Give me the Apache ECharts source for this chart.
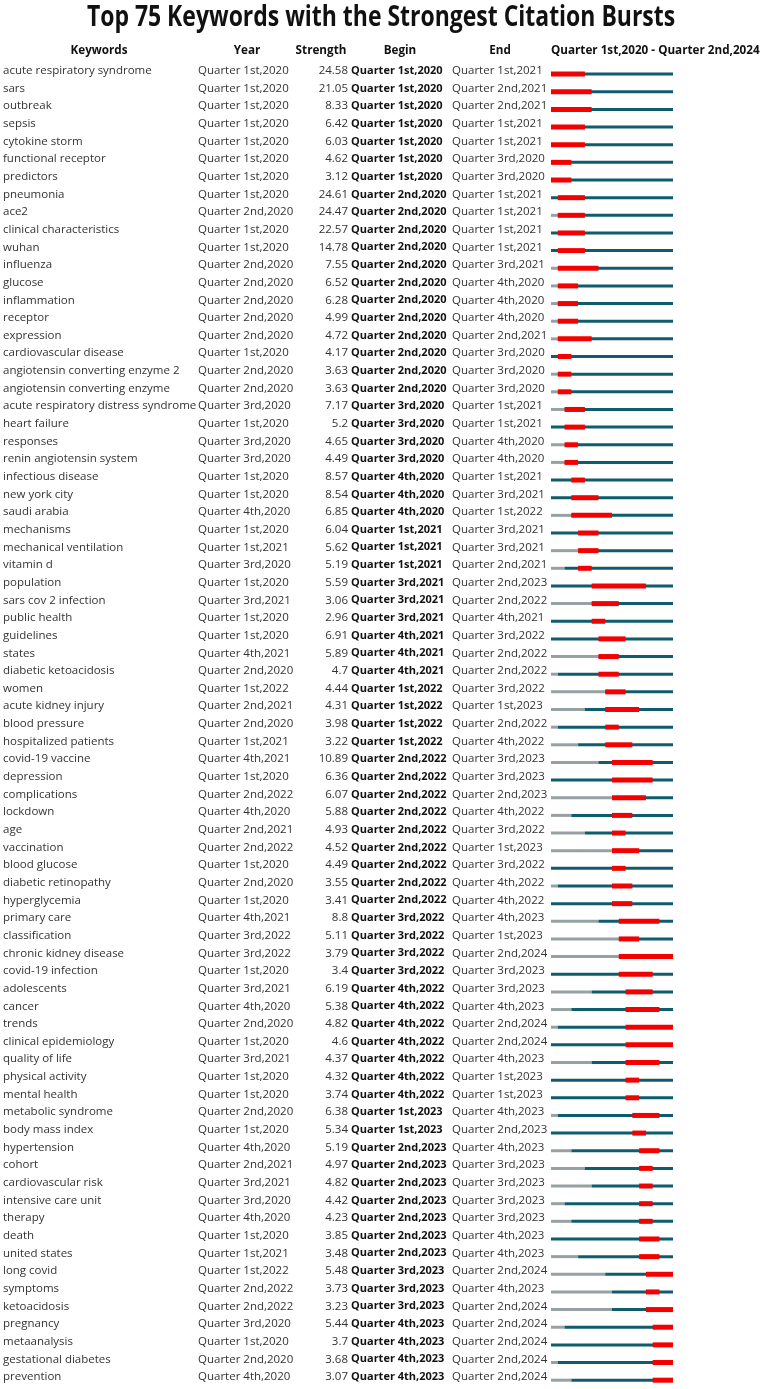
<!DOCTYPE html>
<html><head><meta charset="utf-8">
<script src="https://cdn.jsdelivr.net/npm/echarts@6/dist/echarts.min.js"></script>
<style>html,body{margin:0;padding:0;background:#fff}#c{width:762px;height:1389px}</style>
</head><body><div id="c"></div>
<script>
const quarterLabels = ["Quarter 1st,2020","Quarter 2nd,2020","Quarter 3rd,2020","Quarter 4th,2020","Quarter 1st,2021","Quarter 2nd,2021","Quarter 3rd,2021","Quarter 4th,2021","Quarter 1st,2022","Quarter 2nd,2022","Quarter 3rd,2022","Quarter 4th,2022","Quarter 1st,2023","Quarter 2nd,2023","Quarter 3rd,2023","Quarter 4th,2023","Quarter 1st,2024","Quarter 2nd,2024"];
const keywords = ["acute respiratory syndrome","sars","outbreak","sepsis","cytokine storm","functional receptor","predictors","pneumonia","ace2","clinical characteristics","wuhan","influenza","glucose","inflammation","receptor","expression","cardiovascular disease","angiotensin converting enzyme 2","angiotensin converting enzyme","acute respiratory distress syndrome","heart failure","responses","renin angiotensin system","infectious disease","new york city","saudi arabia","mechanisms","mechanical ventilation","vitamin d","population","sars cov 2 infection","public health","guidelines","states","diabetic ketoacidosis","women","acute kidney injury","blood pressure","hospitalized patients","covid-19 vaccine","depression","complications","lockdown","age","vaccination","blood glucose","diabetic retinopathy","hyperglycemia","primary care","classification","chronic kidney disease","covid-19 infection","adolescents","cancer","trends","clinical epidemiology","quality of life","physical activity","mental health","metabolic syndrome","body mass index","hypertension","cohort","cardiovascular risk","intensive care unit","therapy","death","united states","long covid","symptoms","ketoacidosis","pregnancy","metaanalysis","gestational diabetes","prevention"];
const years = ["Quarter 1st,2020","Quarter 1st,2020","Quarter 1st,2020","Quarter 1st,2020","Quarter 1st,2020","Quarter 1st,2020","Quarter 1st,2020","Quarter 1st,2020","Quarter 2nd,2020","Quarter 1st,2020","Quarter 1st,2020","Quarter 2nd,2020","Quarter 2nd,2020","Quarter 2nd,2020","Quarter 2nd,2020","Quarter 2nd,2020","Quarter 1st,2020","Quarter 2nd,2020","Quarter 2nd,2020","Quarter 3rd,2020","Quarter 1st,2020","Quarter 3rd,2020","Quarter 3rd,2020","Quarter 1st,2020","Quarter 1st,2020","Quarter 4th,2020","Quarter 1st,2020","Quarter 1st,2021","Quarter 3rd,2020","Quarter 1st,2020","Quarter 3rd,2021","Quarter 1st,2020","Quarter 1st,2020","Quarter 4th,2021","Quarter 2nd,2020","Quarter 1st,2022","Quarter 2nd,2021","Quarter 2nd,2020","Quarter 1st,2021","Quarter 4th,2021","Quarter 1st,2020","Quarter 2nd,2022","Quarter 4th,2020","Quarter 2nd,2021","Quarter 2nd,2022","Quarter 1st,2020","Quarter 2nd,2020","Quarter 1st,2020","Quarter 4th,2021","Quarter 3rd,2022","Quarter 3rd,2022","Quarter 1st,2020","Quarter 3rd,2021","Quarter 4th,2020","Quarter 2nd,2020","Quarter 1st,2020","Quarter 3rd,2021","Quarter 1st,2020","Quarter 1st,2020","Quarter 2nd,2020","Quarter 1st,2020","Quarter 4th,2020","Quarter 2nd,2021","Quarter 3rd,2021","Quarter 3rd,2020","Quarter 4th,2020","Quarter 1st,2020","Quarter 1st,2021","Quarter 1st,2022","Quarter 2nd,2022","Quarter 2nd,2022","Quarter 3rd,2020","Quarter 1st,2020","Quarter 2nd,2020","Quarter 4th,2020"];
const strengths = [24.58,21.05,8.33,6.42,6.03,4.62,3.12,24.61,24.47,22.57,14.78,7.55,6.52,6.28,4.99,4.72,4.17,3.63,3.63,7.17,5.2,4.65,4.49,8.57,8.54,6.85,6.04,5.62,5.19,5.59,3.06,2.96,6.91,5.89,4.7,4.44,4.31,3.98,3.22,10.89,6.36,6.07,5.88,4.93,4.52,4.49,3.55,3.41,8.8,5.11,3.79,3.4,6.19,5.38,4.82,4.6,4.37,4.32,3.74,6.38,5.34,5.19,4.97,4.82,4.42,4.23,3.85,3.48,5.48,3.73,3.23,5.44,3.7,3.68,3.07];
const begins = ["Quarter 1st,2020","Quarter 1st,2020","Quarter 1st,2020","Quarter 1st,2020","Quarter 1st,2020","Quarter 1st,2020","Quarter 1st,2020","Quarter 2nd,2020","Quarter 2nd,2020","Quarter 2nd,2020","Quarter 2nd,2020","Quarter 2nd,2020","Quarter 2nd,2020","Quarter 2nd,2020","Quarter 2nd,2020","Quarter 2nd,2020","Quarter 2nd,2020","Quarter 2nd,2020","Quarter 2nd,2020","Quarter 3rd,2020","Quarter 3rd,2020","Quarter 3rd,2020","Quarter 3rd,2020","Quarter 4th,2020","Quarter 4th,2020","Quarter 4th,2020","Quarter 1st,2021","Quarter 1st,2021","Quarter 1st,2021","Quarter 3rd,2021","Quarter 3rd,2021","Quarter 3rd,2021","Quarter 4th,2021","Quarter 4th,2021","Quarter 4th,2021","Quarter 1st,2022","Quarter 1st,2022","Quarter 1st,2022","Quarter 1st,2022","Quarter 2nd,2022","Quarter 2nd,2022","Quarter 2nd,2022","Quarter 2nd,2022","Quarter 2nd,2022","Quarter 2nd,2022","Quarter 2nd,2022","Quarter 2nd,2022","Quarter 2nd,2022","Quarter 3rd,2022","Quarter 3rd,2022","Quarter 3rd,2022","Quarter 3rd,2022","Quarter 4th,2022","Quarter 4th,2022","Quarter 4th,2022","Quarter 4th,2022","Quarter 4th,2022","Quarter 4th,2022","Quarter 4th,2022","Quarter 1st,2023","Quarter 1st,2023","Quarter 2nd,2023","Quarter 2nd,2023","Quarter 2nd,2023","Quarter 2nd,2023","Quarter 2nd,2023","Quarter 2nd,2023","Quarter 2nd,2023","Quarter 3rd,2023","Quarter 3rd,2023","Quarter 3rd,2023","Quarter 4th,2023","Quarter 4th,2023","Quarter 4th,2023","Quarter 4th,2023"];
const ends = ["Quarter 1st,2021","Quarter 2nd,2021","Quarter 2nd,2021","Quarter 1st,2021","Quarter 1st,2021","Quarter 3rd,2020","Quarter 3rd,2020","Quarter 1st,2021","Quarter 1st,2021","Quarter 1st,2021","Quarter 1st,2021","Quarter 3rd,2021","Quarter 4th,2020","Quarter 4th,2020","Quarter 4th,2020","Quarter 2nd,2021","Quarter 3rd,2020","Quarter 3rd,2020","Quarter 3rd,2020","Quarter 1st,2021","Quarter 1st,2021","Quarter 4th,2020","Quarter 4th,2020","Quarter 1st,2021","Quarter 3rd,2021","Quarter 1st,2022","Quarter 3rd,2021","Quarter 3rd,2021","Quarter 2nd,2021","Quarter 2nd,2023","Quarter 2nd,2022","Quarter 4th,2021","Quarter 3rd,2022","Quarter 2nd,2022","Quarter 2nd,2022","Quarter 3rd,2022","Quarter 1st,2023","Quarter 2nd,2022","Quarter 4th,2022","Quarter 3rd,2023","Quarter 3rd,2023","Quarter 2nd,2023","Quarter 4th,2022","Quarter 3rd,2022","Quarter 1st,2023","Quarter 3rd,2022","Quarter 4th,2022","Quarter 4th,2022","Quarter 4th,2023","Quarter 1st,2023","Quarter 2nd,2024","Quarter 3rd,2023","Quarter 3rd,2023","Quarter 4th,2023","Quarter 2nd,2024","Quarter 2nd,2024","Quarter 4th,2023","Quarter 1st,2023","Quarter 1st,2023","Quarter 4th,2023","Quarter 2nd,2023","Quarter 4th,2023","Quarter 3rd,2023","Quarter 3rd,2023","Quarter 3rd,2023","Quarter 3rd,2023","Quarter 4th,2023","Quarter 4th,2023","Quarter 2nd,2024","Quarter 4th,2023","Quarter 2nd,2024","Quarter 2nd,2024","Quarter 2nd,2024","Quarter 2nd,2024","Quarter 2nd,2024"];
const titleText = "Top 75 Keywords with the Strongest Citation Bursts";
const headers = ["Keywords","Year","Strength","Begin","End","Quarter 1st,2020 - Quarter 2nd,2024"];

const GREY = '#97a1a3', TEAL = '#0f5d6c', RED = '#f40000';
const FONT = '"Open Sans", sans-serif';
const NQ = quarterLabels.length;
const qi = s => quarterLabels.indexOf(s);

const rows = keywords.map((k, i) => [i, qi(years[i]), qi(begins[i]), qi(ends[i])]);

const chart = echarts.init(document.getElementById('c'), null, {renderer: 'canvas'});
const dataFont = '11.5px ' + FONT;
const boldFont = 'bold 11px ' + FONT;
const headFont = 'bold 11.7px ' + FONT;
const TXT = '#333333';

function head(x, text, align) {
  return {type: 'text', x: x, y: 51, style: {text: text, font: headFont, fill: '#111', align: align, verticalAlign: 'middle'}};
}

chart.setOption({
  animation: false,
  graphic: [
    {type: 'text', x: 381, y: 18, scaleX: 0.82, style: {text: titleText, font: 'bold 28px ' + FONT, fill: '#111', align: 'center', verticalAlign: 'middle'}},
    head(99, headers[0], 'center'),
    head(247, headers[1], 'center'),
    head(321, headers[2], 'center'),
    head(400, headers[3], 'center'),
    head(500, headers[4], 'center'),
    head(551, headers[5], 'left')
  ],
  grid: {left: 551, width: 122, top: 65.3, height: 1327.9, containLabel: false},
  xAxis: {type: 'value', min: 0, max: NQ, show: false},
  yAxis: {type: 'category', data: keywords, inverse: true, show: false},
  series: [{
    type: 'custom',
    clip: false,
    data: rows,
    renderItem: function (params, api) {
      const i = api.value(0), yi = api.value(1), bi = api.value(2), ei = api.value(3);
      const yc = api.coord([0, i])[1];
      const X = q => api.coord([q, i])[0];
      const ty = yc - 3.3;
      const ch = [];
      if (yi > 0) ch.push({type: 'rect', shape: {x: X(0), y: yc - 1.5, width: X(yi) - X(0), height: 3}, style: {fill: GREY}});
      ch.push({type: 'rect', shape: {x: X(yi), y: yc - 1.5, width: X(NQ) - X(yi), height: 3}, style: {fill: TEAL}});
      ch.push({type: 'rect', shape: {x: X(bi), y: yc - 2.5, width: X(ei + 1) - X(bi), height: 5}, style: {fill: RED}});
      ch.push({type: 'text', x: 3, y: ty, style: {text: keywords[i], font: dataFont, fill: TXT, align: 'left', verticalAlign: 'middle'}});
      ch.push({type: 'text', x: 198, y: ty, style: {text: years[i], font: dataFont, fill: TXT, align: 'left', verticalAlign: 'middle'}});
      ch.push({type: 'text', x: 348, y: ty, style: {text: String(strengths[i]), font: dataFont, fill: TXT, align: 'right', verticalAlign: 'middle'}});
      ch.push({type: 'text', x: 351, y: ty, style: {text: begins[i], font: boldFont, fill: '#111', align: 'left', verticalAlign: 'middle'}});
      ch.push({type: 'text', x: 452, y: ty, style: {text: ends[i], font: dataFont, fill: TXT, align: 'left', verticalAlign: 'middle'}});
      return {type: 'group', children: ch};
    }
  }]
});
</script></body></html>
